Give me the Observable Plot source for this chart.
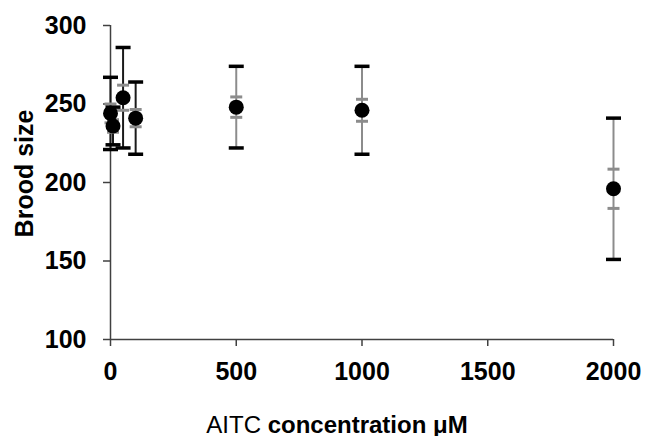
<!DOCTYPE html>
<html>
<head>
<meta charset="utf-8">
<script src="https://cdn.jsdelivr.net/npm/d3@7"></script>
<script src="https://cdn.jsdelivr.net/npm/@observablehq/plot@0.6"></script>
<style>
  html, body { margin: 0; padding: 0; background: #fff; }
</style>
</head>
<body>
<div id="chart"></div>
<script>
// Data
const concentrations = [0, 10, 50, 100, 500, 1000, 2000];      // AITC concentration (µM)
const broodMean      = [244, 236, 254, 241, 248, 246, 196];     // mean brood size
const broodSD        = [23, 12, 32, 23, 26, 28, 45];            // black error bars
const broodSE        = [6, 4, 8, 5.5, 6.5, 7, 12.5];            // grey error bars
const xTicks = [0, 500, 1000, 1500, 2000];
const yTicks = [100, 150, 200, 250, 300];
const xLabel = "AITC concentration μM";
const yLabel = "Brood size";

const data = concentrations.map((x, i) => ({x, y: broodMean[i], sd: broodSD[i], se: broodSE[i]}));

const hbar = {draw(ctx, size) { const w = Math.sqrt(size / Math.PI); ctx.moveTo(-w, 0); ctx.lineTo(w, 0); }};
const axisColor = "#404040";
const fs = 25;

const chart = Plot.plot({
  width: 645,
  height: 436,
  marginLeft: 110,
  marginRight: 32,
  marginTop: 25,
  marginBottom: 97,
  style: {fontFamily: "Arial, 'Liberation Sans', sans-serif", fontSize: fs + "px", fontWeight: "bold", color: "black", background: "white"},
  x: {domain: [0, 2000]},
  y: {domain: [100, 300]},
  marks: [
    Plot.axisX({ticks: xTicks, tickFormat: d3.format("d"), tickSize: 7, tickPadding: 16, label: null,
      stroke: axisColor, strokeWidth: 1.5, fill: "black", fontSize: fs}),
    Plot.axisY({ticks: yTicks, tickFormat: d3.format("d"), tickSize: 7, tickPadding: 17, label: null,
      stroke: axisColor, strokeWidth: 1.5, fill: "black", fontSize: fs}),
    Plot.ruleY([100], {stroke: axisColor, strokeWidth: 1.5}),
    Plot.ruleX([0], {stroke: axisColor, strokeWidth: 1.5}),
    // SD whisker lines
    Plot.ruleX(data, {x: "x", y1: d => d.y - d.sd, y2: d => d.y + d.sd,
      stroke: d => d.x <= 100 ? "#1a1a1a" : "#8c8c8c", strokeWidth: 2}),
    // SE caps (grey)
    Plot.dot(data, {x: "x", y: d => d.y + d.se, symbol: hbar, r: 6, stroke: "#8c8c8c", strokeWidth: 3, fill: "none"}),
    Plot.dot(data, {x: "x", y: d => d.y - d.se, symbol: hbar, r: 6, stroke: "#8c8c8c", strokeWidth: 3, fill: "none"}),
    // SD caps (black)
    Plot.dot(data, {x: "x", y: d => d.y + d.sd, symbol: hbar, r: 7.5, stroke: "black", strokeWidth: 3.5, fill: "none"}),
    Plot.dot(data, {x: "x", y: d => d.y - d.sd, symbol: hbar, r: 7.5, stroke: "black", strokeWidth: 3.5, fill: "none"}),
    // means
    Plot.dot(data, {x: "x", y: "y", r: 7.5, fill: "black", stroke: "none"}),
    // axis titles
    Plot.text([yLabel], {frameAnchor: "left", text: d => d, rotate: -90, dx: -86, dy: -9, textAnchor: "middle",
      fontSize: fs, fontWeight: "bold", fill: "black"}),
    Plot.text([xLabel], {frameAnchor: "bottom", text: d => d, dx: -25, dy: 93, lineAnchor: "bottom", textAnchor: "middle",
      fontSize: fs - 1, fontWeight: "bold", fill: "black"})
  ]
});

// "AITC" appears in regular weight, the rest bold
d3.select(chart).selectAll("text").each(function() {
  const t = d3.select(this);
  if (t.text() === xLabel) {
    t.text(null);
    t.append("tspan").attr("font-weight", "normal").text("AITC");
    t.append("tspan").attr("font-weight", "bold").text(xLabel.slice(4));
  }
});

document.getElementById("chart").appendChild(chart);
</script>
</body>
</html>
